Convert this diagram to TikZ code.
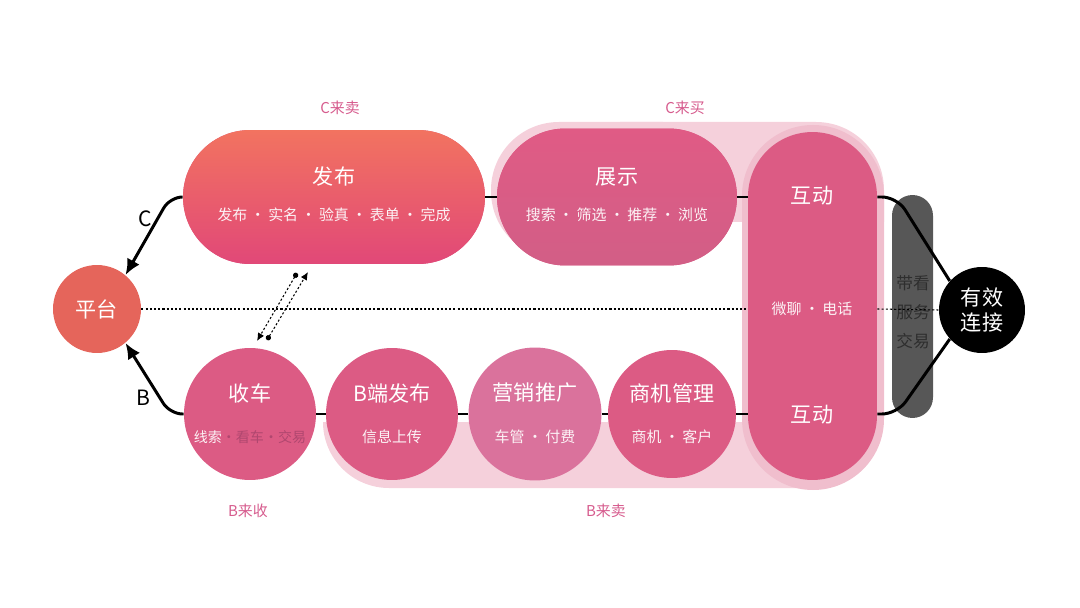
\documentclass[tikz,border=0pt]{standalone}
\usepackage{fontspec}
\setmainfont{Noto Sans CJK SC}
\usetikzlibrary{arrows.meta}

\definecolor{coral}{HTML}{E5655B}
\definecolor{fabutop}{HTML}{F27360}
\definecolor{fabubot}{HTML}{E14878}
\definecolor{rose}{HTML}{DC5B84}
\definecolor{zstop}{HTML}{E05B85}
\definecolor{zsbot}{HTML}{D25E86}
\definecolor{mauve}{HTML}{DA729C}
\definecolor{palepink}{HTML}{F5D0DB}
\definecolor{halopink}{HTML}{F0BECD}
\definecolor{tagpink}{HTML}{D65B8D}
\definecolor{bargray}{HTML}{575757}
\definecolor{bartext}{HTML}{2E2E2E}
\definecolor{dimtxt}{HTML}{B0476F}

\newcommand{\sepdot}{\hspace{0.2em}·\hspace{0.2em}}

\begin{document}
\begin{tikzpicture}[x=0.02cm, y=-0.02cm,
    ball/.style={circle, fill=rose, minimum size=#1, inner sep=0pt},
    pill/.style={rectangle, fill=rose, inner sep=0pt},
    headtxt/.style={text=white, font=\fontsize{12}{14}\selectfont},
    subtxt/.style={text=white!92!rose, font=\fontsize{8.5}{10}\selectfont},
    tag/.style={text=tagpink, font=\fontsize{8.5}{10}\selectfont},
    link/.style={line width=1.7pt, black},
    dotline/.style={dash pattern=on 1.2pt off 1.2pt, line width=0.6pt, black}]
    \useasboundingbox (0,0) rectangle (1080,608);

    % Backgrounds
    \fill[palepink, rounded corners=1.36cm] (491,122) rectangle (731,259);
    \fill[palepink] (620,122) -- (816,122) arc[start angle=-90, end angle=0, radius=68] -- (884,222) -- (620,222) -- cycle;
    \fill[palepink] (323,422) arc[start angle=180, end angle=90, radius=66] -- (813,488) -- (813,422) -- cycle;
    \fill[halopink, rounded corners=1.42cm] (742,125) rectangle (884,490);

    % Platform
    \node[ball=1.76cm, fill=coral, headtxt] (pingtai) at (97,309) {平台};

    % C row
    \node[pill, minimum width=6.04cm, minimum height=2.68cm, rounded corners=1.34cm,
          top color=fabutop, bottom color=fabubot] (fabu) at (334,197) {};
    \node[headtxt] (fabu-t) at (334,176) {发布};
    \node[subtxt] (fabu-s) at (334,215) {发布\sepdot 实名\sepdot 验真\sepdot 表单\sepdot 完成};

    \node[pill, minimum width=4.8cm, minimum height=2.74cm, rounded corners=1.37cm,
          top color=zstop, bottom color=zsbot] (zhanshi) at (617,197) {};
    \node[headtxt] (zhanshi-t) at (617,177) {展示};
    \node[subtxt] (zhanshi-s) at (617,215) {搜索\sepdot 筛选\sepdot 推荐\sepdot 浏览};

    % Interaction column
    \node[pill, minimum width=2.58cm, minimum height=6.96cm, rounded corners=1.29cm] (hudong) at (812.5,306) {};
    \node[headtxt] (hudong-t) at (812,196) {互动};
    \node[subtxt] (hudong-s) at (812,309) {微聊\sepdot 电话};
    \node[headtxt] (hudong-b) at (812,415) {互动};

    % B row
    \node[ball=2.64cm] (shouche) at (250,414) {};
    \node[headtxt] (shouche-t) at (250,393) {收车};
    \node[subtxt, font=\fontsize{8}{10}\selectfont] (shouche-s) at (250,437) {线索{\color{dimtxt}·看车·交易}};

    \node[ball=2.64cm] (bfabu) at (392,414) {};
    \node[headtxt] (bfabu-t) at (392,393) {B端发布};
    \node[subtxt] (bfabu-s) at (392,437) {信息上传};

    \node[ball=2.66cm, fill=mauve] (yingxiao) at (535,414) {};
    \node[headtxt] (yingxiao-t) at (535,393) {营销推广};
    \node[subtxt] (yingxiao-s) at (535,437) {车管\sepdot 付费};

    \node[ball=2.56cm] (shangji) at (672,414) {};
    \node[headtxt] (shangji-t) at (672,393) {商机管理};
    \node[subtxt] (shangji-s) at (672,437) {商机\sepdot 客户};

    % Row links
    \draw[link] (fabu.east) -- (zhanshi.west);
    \draw[link] (zhanshi.east) -- (zhanshi.east -| hudong.west);
    \draw[link] (shouche.east) -- (bfabu.west);
    \draw[link] (bfabu.east) -- (yingxiao.west);
    \draw[link] (yingxiao.east) -- (shangji.west);
    \draw[link] (shangji.east) -- (shangji.east -| hudong.west);

    % Service bar and result
    \node[pill, fill=bargray, minimum width=0.82cm, minimum height=4.46cm, rounded corners=0.41cm] (graybar) at (912.5,306.5) {};
    \node[text=bartext, align=center, font=\fontsize{9.5}{16.4}\selectfont] (graybar-t) at (913,312) {带看\\服务\\交易};
    \node[ball=1.72cm, fill=black, text=white, align=center, font=\fontsize{12}{14}\selectfont] (youxiao) at (982,310) {有效\\连接};

    % Dotted axis
    \draw[dotline] (pingtai.east) -- (hudong.west |- pingtai.east);
    \draw[dotline] (hudong.east |- pingtai.east) -- (youxiao.west);

    % Curves
    \draw[link, rounded corners=0.3cm] (hudong.east |- zhanshi.east) -- (897,197) -- (youxiao.138);
    \draw[link, rounded corners=0.3cm] (hudong.east |- shangji.east) -- (897,414) -- (youxiao.222);
    \draw[link, rounded corners=0.25cm, -{Latex[length=9pt, width=8pt]}] (fabu.west) -- (170,197) -- (pingtai.50);
    \draw[link, rounded corners=0.25cm, -{Latex[length=9pt, width=8pt]}] (shouche.west) -- (170,414) -- (pingtai.-50);
    \node[font=\fontsize{12}{14}\selectfont] (clab) at (145,219) {C};
    \node[font=\fontsize{12}{14}\selectfont] (blab) at (143,398) {B};

    % Exchange arrows
    \coordinate (d1a) at (297,273);
    \coordinate (d1b) at (257,341);
    \coordinate (d2a) at (267,340);
    \coordinate (d2b) at (308,272);
    \draw[dotline, {Circle[length=3pt]}-{Latex[length=4.5pt, width=4pt]}] (d1a) -- (d1b);
    \draw[dotline, {Circle[length=3pt]}-{Latex[length=4.5pt, width=4pt]}] (d2a) -- (d2b);

    % Tags
    \node[tag] (csell) at (340,108) {C来卖};
    \node[tag] (cbuy) at (685,108) {C来买};
    \node[tag] (bget) at (248,511) {B来收};
    \node[tag] (bsell) at (606,511) {B来卖};
\end{tikzpicture}
\end{document}
